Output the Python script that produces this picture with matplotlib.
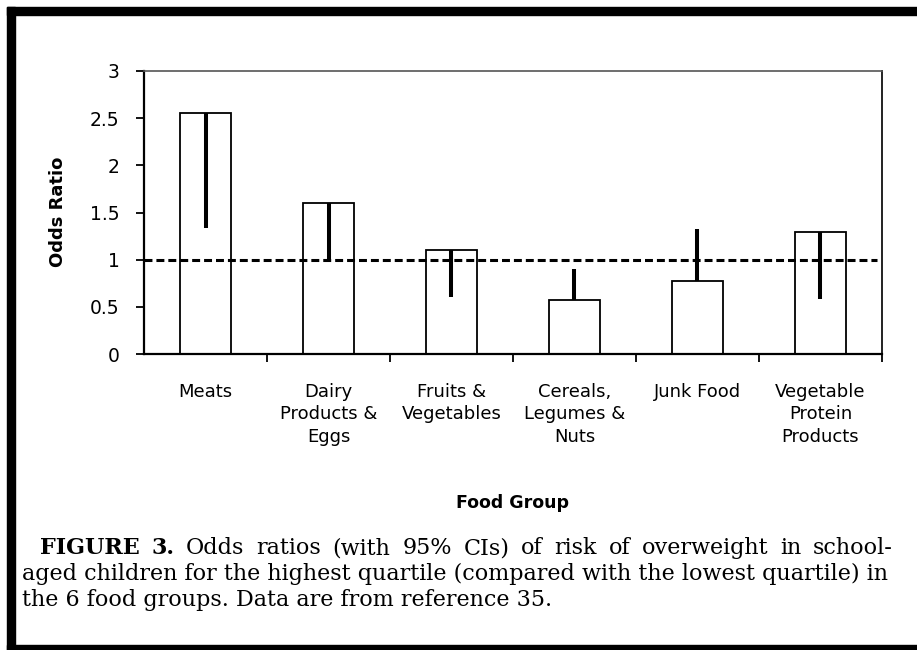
import matplotlib
matplotlib.use("Agg")
import matplotlib.pyplot as plt
from matplotlib.patches import Rectangle

# =========================
# Data
# =========================

categories = [
    "Meats",
    "Dairy\nProducts &\nEggs",
    "Fruits &\nVegetables",
    "Cereals,\nLegumes &\nNuts",
    "Junk Food",
    "Vegetable\nProtein\nProducts",
]
odds_ratio = [2.55, 1.60, 1.10, 0.57, 0.77, 1.29]
# end of the CI line drawn from the bar top (toward OR = 1)
ci_end = [1.34, 1.01, 0.60, 0.90, 1.32, 0.58]
y_ticks = [0, 0.5, 1, 1.5, 2, 2.5, 3]
y_tick_labels = ["0", "0.5", "1", "1.5", "2", "2.5", "3"]

sans = ["DejaVu Sans"]
serif = ["DejaVu Serif"]

# =========================
# Figure and axes
# =========================

W, H = 917, 650
fig = plt.figure(figsize=(W / 100, H / 100), dpi=100)
fig.patch.set_facecolor("white")

ax = fig.add_axes([144 / W, 1 - 354 / H, (882 - 144) / W, (354 - 71) / H])

x = list(range(len(categories)))
ax.bar(x, odds_ratio, width=0.41, color="white", edgecolor="black",
       linewidth=1.3, zorder=2)
ax.vlines(x, odds_ratio, ci_end, colors="black", linewidth=2.9, zorder=3)
ax.axhline(1.0, xmin=0, xmax=0.993, color="black", linewidth=2.2,
           linestyle=(0, (2.6, 1.3)), zorder=4)

ax.set_xlim(-0.5, len(categories) - 0.5)
ax.set_ylim(0, 3)

ax.set_yticks(y_ticks)
ax.set_yticklabels(y_tick_labels, fontsize=13.5, family=sans)
ax.tick_params(axis="y", direction="out", length=5.5, width=1.3, pad=12)

ax.set_xticks(x)
ax.set_xticklabels(categories, fontsize=13, family=sans, linespacing=1.3)
ax.tick_params(axis="x", which="major", length=0, pad=21)
ax.set_xticks([i + 0.5 for i in x], minor=True)
ax.tick_params(axis="x", which="minor", direction="out", length=6, width=1.3)

for side in ["left", "bottom"]:
    ax.spines[side].set_linewidth(1.6)
    ax.spines[side].set_color("black")
ax.spines["top"].set_linewidth(1.2)
ax.spines["top"].set_color("#555555")
ax.spines["right"].set_linewidth(1.4)
ax.spines["right"].set_color("#222222")

fig.text(58 / W, 1 - 212 / H, "Odds Ratio", rotation=90, ha="center",
         va="center", fontsize=13, fontweight="bold", family=sans)
fig.text(513 / W, 1 - 503 / H, "Food Group", ha="center", va="center",
         fontsize=12.5, fontweight="bold", family=sans)

# =========================
# Caption (first line justified)
# =========================

cap_size = 16
right_edge = 893
line1 = [("FIGURE", "bold"), ("3.", "bold"), ("Odds", "normal"),
         ("ratios", "normal"), ("(with", "normal"), ("95%", "normal"),
         ("CIs)", "normal"), ("of", "normal"), ("risk", "normal"),
         ("of", "normal"), ("overweight", "normal"), ("in", "normal"),
         ("school-", "normal")]

renderer = fig.canvas.get_renderer()
words = []
for w, weight in line1:
    t = fig.text(0, 1 - 554 / H, w, fontsize=cap_size, fontweight=weight,
                 family=serif, va="baseline")
    words.append(t)
widths = [t.get_window_extent(renderer).width for t in words]
gap = (right_edge - 40 - sum(widths)) / (len(words) - 1)
pos = 40
for t, wd in zip(words, widths):
    t.set_x(pos / W)
    pos += wd + gap

fig.text(22 / W, 1 - 580 / H,
         "aged children for the highest quartile (compared with the lowest quartile) in",
         fontsize=cap_size, family=serif, va="baseline")
fig.text(22 / W, 1 - 606 / H,
         "the 6 food groups. Data are from reference 35.",
         fontsize=cap_size, family=serif, va="baseline")

# =========================
# Outer frame
# =========================

frame = dict(color="black", transform=fig.transFigure, clip_on=False)
fig.patches.append(Rectangle((7 / W, 1 - 15 / H), 1, 8 / H, **frame))
fig.patches.append(Rectangle((7 / W, 0), 8 / W, 1 - 7 / H, **frame))
fig.patches.append(Rectangle((7 / W, 0), 1, 5 / H, **frame))

fig.savefig("out.png", dpi=100)
